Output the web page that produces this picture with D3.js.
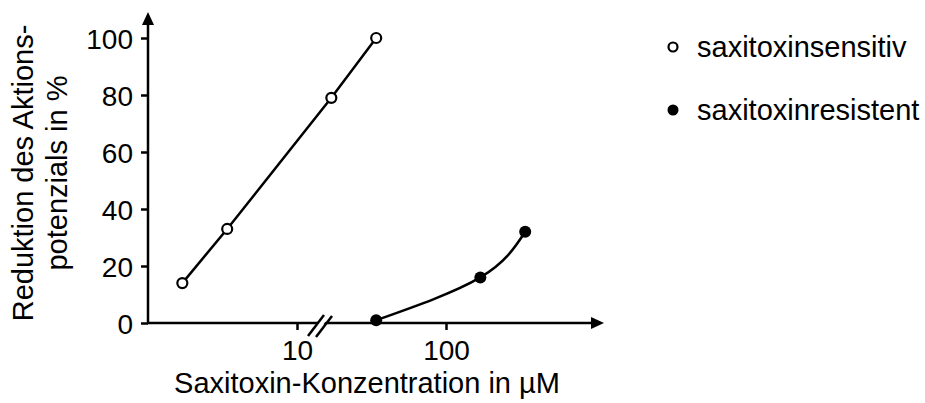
<!DOCTYPE html>
<html>
<head>
<meta charset="utf-8">
<script src="https://cdn.jsdelivr.net/npm/d3@7"></script>
<style>
  html, body { margin: 0; padding: 0; background: #fff; }
  svg { display: block; font-family: "Liberation Sans", Arial, sans-serif; }
</style>
</head>
<body>
<div id="chart"></div>
<script>
// Saxitoxin dose-response data
const concSensitive = [1.7, 3.4, 17, 34];
const redSensitive = [14, 33, 79, 100];
const concResistant = [34, 170, 340];
const redResistant = [1, 16, 32];

const xTicks = [10, 100];
const yTicks = [0, 20, 40, 60, 80, 100];

const legendLabels = ["saxitoxinsensitiv", "saxitoxinresistent"];
const xTitle = "Saxitoxin-Konzentration in µM";
const yTitle = ["Reduktion des Aktions-", "potenzials in %"];

const width = 925, height = 403;

const svg = d3.select("#chart").append("svg")
    .attr("width", width)
    .attr("height", height);

const x = d3.scaleLog().domain([1, 1000]).range([148, 595]);
const y = d3.scaleLinear().domain([0, 100]).range([323, 38]);

const x0 = x(1), y0 = y(0);

// y axis ticks and labels
const yAxis = svg.append("g")
    .attr("transform", `translate(${x0},0)`)
    .call(d3.axisLeft(y).tickValues(yTicks).tickSize(7).tickPadding(8).tickFormat(d3.format("d")));
yAxis.select(".domain").remove();
yAxis.selectAll("line").attr("stroke", "#000").attr("stroke-width", 2.5);
yAxis.selectAll("text")
    .attr("font-size", 28)
    .attr("font-family", "Liberation Sans, Arial, sans-serif")
    .attr("fill", "#000")
    .attr("dy", "0.36em");

// x axis ticks and labels
const xAxis = svg.append("g")
    .attr("transform", `translate(0,${y0})`)
    .call(d3.axisBottom(x).tickValues(xTicks).tickSize(7).tickPadding(10).tickFormat(d3.format("d")));
xAxis.select(".domain").remove();
xAxis.selectAll("line").attr("stroke", "#000").attr("stroke-width", 2.5);
xAxis.selectAll("text")
    .attr("font-size", 28)
    .attr("font-family", "Liberation Sans, Arial, sans-serif")
    .attr("fill", "#000")
    .attr("dy", "0.72em");

// axis lines with arrow heads
svg.append("line")
    .attr("x1", x0).attr("y1", y0 + 1)
    .attr("x2", x0).attr("y2", 22)
    .attr("stroke", "#000").attr("stroke-width", 2.5);
svg.append("path")
    .attr("d", `M${x0},12 L${x0 - 6},25 L${x0 + 6},25 Z`)
    .attr("fill", "#000");

svg.append("line")
    .attr("x1", x0 - 1).attr("y1", y0)
    .attr("x2", 594).attr("y2", y0)
    .attr("stroke", "#000").attr("stroke-width", 2.5);
svg.append("path")
    .attr("d", `M604,${y0} L591,${y0 - 6} L591,${y0 + 6} Z`)
    .attr("fill", "#000");

// axis break
svg.append("path")
    .attr("d", `M${313},${y0 + 6} L${322},${y0 - 6} L${329},${y0 - 6} L${320},${y0 + 6} Z`)
    .attr("fill", "#fff");
[[308, 336, 324, 315], [316, 337, 332, 316]].forEach(s => {
    svg.append("line")
        .attr("x1", s[0]).attr("y1", s[1])
        .attr("x2", s[2]).attr("y2", s[3])
        .attr("stroke", "#000").attr("stroke-width", 2.5);
});

// series
const sensitive = concSensitive.map((c, i) => [c, redSensitive[i]]);
const resistant = concResistant.map((c, i) => [c, redResistant[i]]);

svg.append("path")
    .datum(sensitive)
    .attr("d", d3.line().x(d => x(d[0])).y(d => y(d[1])).curve(d3.curveLinear))
    .attr("fill", "none").attr("stroke", "#000").attr("stroke-width", 2.5);

svg.append("path")
    .datum(resistant)
    .attr("d", d3.line().x(d => x(d[0])).y(d => y(d[1])).curve(d3.curveNatural))
    .attr("fill", "none").attr("stroke", "#000").attr("stroke-width", 2.5);

svg.selectAll(".open")
    .data(sensitive)
    .enter().append("circle")
    .attr("class", "open")
    .attr("cx", d => x(d[0])).attr("cy", d => y(d[1]))
    .attr("r", 5)
    .attr("fill", "#fff").attr("stroke", "#000").attr("stroke-width", 2.2);

svg.selectAll(".filled")
    .data(resistant)
    .enter().append("circle")
    .attr("class", "filled")
    .attr("cx", d => x(d[0])).attr("cy", d => y(d[1]))
    .attr("r", 6)
    .attr("fill", "#000");

// titles
svg.append("text")
    .attr("x", 367).attr("y", 393)
    .attr("text-anchor", "middle")
    .attr("font-size", 29)
    .text(xTitle);

yTitle.forEach((t, i) => {
    svg.append("text")
        .attr("transform", `translate(${33 + i * 34},173) rotate(-90)`)
        .attr("text-anchor", "middle")
        .attr("font-size", 29)
        .text(t);
});

// legend
const legend = svg.append("g");
legendLabels.forEach((label, i) => {
    const ly = 47 + i * 63;
    if (i === 0) {
        legend.append("circle")
            .attr("cx", 673).attr("cy", ly).attr("r", 4.5)
            .attr("fill", "#fff").attr("stroke", "#000").attr("stroke-width", 2.2);
    } else {
        legend.append("circle")
            .attr("cx", 673).attr("cy", ly).attr("r", 5.5)
            .attr("fill", "#000");
    }
    legend.append("text")
        .attr("x", 697).attr("y", ly + 10)
        .attr("font-size", 29)
        .text(label);
});
</script>
</body>
</html>
